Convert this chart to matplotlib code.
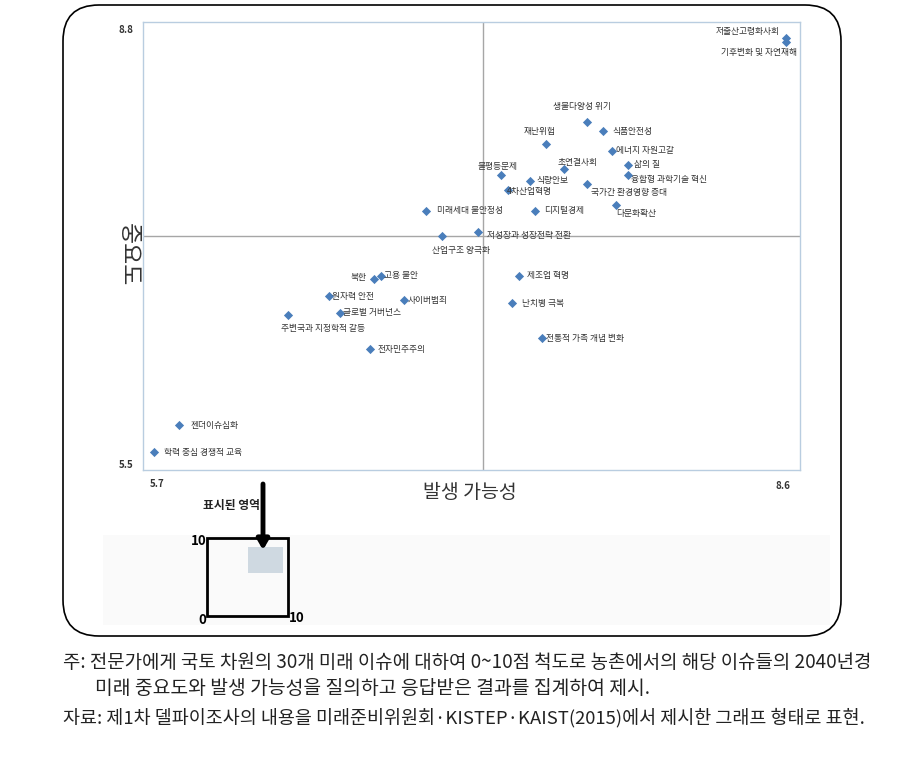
import matplotlib
matplotlib.use("Agg")
import matplotlib.pyplot as plt
from matplotlib.patches import FancyBboxPatch, Rectangle

plt.rcParams['font.family'] = ['Noto Sans CJK KR', 'DejaVu Sans']

# 30개 미래 이슈: 발생 가능성(x), 중요도(y)
이슈 = ["저출산고령화사회", "기후변화 및 자연재해", "생물다양성 위기", "식품안전성", "재난위험",
      "에너지 자원고갈", "삶의 질", "초연결사회", "융합형 과학기술 혁신", "불평등문제",
      "식량안보", "국가간 환경영향 증대", "4차산업혁명", "다문화확산", "미래세대 불안정성",
      "디지털경제", "저성장과 성장전략 전환", "산업구조 양극화", "제조업 혁명", "난치병 극복",
      "전통적 가족 개념 변화", "북한", "고용 불안", "원자력 안전", "사이버범죄",
      "글로벌 거버넌스", "주변국과 지정학적 갈등", "전자민주주의", "젠더이슈심화", "학력 중심 경쟁적 교육"]
발생가능성 = [8.54, 8.54, 7.66, 7.73, 7.48, 7.77, 7.84, 7.56, 7.84, 7.28,
         7.41, 7.66, 7.31, 7.79, 6.95, 7.43, 7.18, 7.02, 7.36, 7.33,
         7.46, 6.72, 6.75, 6.52, 6.85, 6.57, 6.34, 6.70, 5.86, 5.75]
중요도 = [8.68, 8.65, 8.06, 8.00, 7.90, 7.85, 7.75, 7.72, 7.67, 7.67,
       7.63, 7.61, 7.56, 7.45, 7.41, 7.41, 7.25, 7.22, 6.93, 6.73,
       6.47, 6.91, 6.93, 6.78, 6.75, 6.66, 6.64, 6.39, 5.83, 5.63]
x_범위 = (5.7, 8.6)
y_범위 = (5.5, 8.8)
기준선 = (7.2, 7.22)

# 라벨 위치 (픽셀 오프셋 dx, dy(위쪽 +), 정렬)
라벨위치 = [(-7, 7, 'right'), (11, -10, 'right'), (-5, 16, 'center'), (10, -1, 'left'), (-7, 13, 'center'),
        (4, 0, 'left'), (6, 0, 'left'), (13, 6, 'center'), (3, -4, 'left'), (-3, 9, 'center'),
        (6, 0, 'left'), (4, -9, 'left'), (-1, -1, 'left'), (0, -8, 'left'), (11, 0, 'left'),
        (9, 0, 'left'), (9, -3, 'left'), (19, -14, 'center'), (8, 0, 'left'), (10, 0, 'left'),
        (4, 0, 'left'), (-8, 1, 'right'), (3, 0, 'left'), (3, 0, 'left'), (4, 0, 'left'),
        (3, 0, 'left'), (-7, -13, 'left'), (8, 0, 'left'), (11, 0, 'left'), (10, 0, 'left')]

W, H = 920, 762
fig = plt.figure(figsize=(W / 100, H / 100), dpi=100)

# 픽셀 좌표용 배경 축
bg = fig.add_axes([0, 0, 1, 1], zorder=0)
bg.set_xlim(0, W)
bg.set_ylim(H, 0)
bg.axis('off')
bg.patch.set_alpha(0)

bg.add_patch(FancyBboxPatch((63, 5), 778, 631, boxstyle="round,pad=0,rounding_size=36",
                            fill=False, ec='black', lw=1.2))
bg.add_patch(Rectangle((103, 535), 727, 90, color='#fafafa', lw=0))

# 본 그래프
ax = fig.add_axes([143 / W, 1 - 470 / H, 657 / W, 448 / H], zorder=1)
ax.set_xlim(*x_범위)
ax.set_ylim(*y_범위)
ax.set_xticks([])
ax.set_yticks([])
for s in ax.spines.values():
    s.set_color('#b9cde0')
    s.set_linewidth(1.0)
ax.axvline(기준선[0], color='#a6a6a6', lw=1)
ax.axhline(기준선[1], color='#a6a6a6', lw=1)
ax.scatter(발생가능성, 중요도, marker='D', s=22, color='#4a7ebb', zorder=3, linewidths=0)

for name, x, y, (dx, dy, ha) in zip(이슈, 발생가능성, 중요도, 라벨위치):
    ax.annotate(name, (x, y), xytext=(dx * 0.72, dy * 0.72), textcoords='offset points',
                ha=ha, va='center', fontsize=6.3, color='#333333', zorder=4)

# 축 끝 값과 축 제목
tick_kw = dict(fontsize=7, fontweight='bold', color='#333333', ha='center', va='center')
bg.text(126, 30, "8.8", **tick_kw)
bg.text(126, 465, "5.5", **tick_kw)
bg.text(157, 484, "5.7", **tick_kw)
bg.text(783, 486, "8.6", **tick_kw)
bg.text(128, 255, "중요도", rotation=270, fontsize=16.5, color='#333333', ha='center', va='center')
bg.text(470, 492, "발생 가능성", fontsize=14, color='#333333', ha='center', va='center')

# 표시된 영역 안내
bg.add_patch(Rectangle((207, 538), 81, 78, fill=False, ec='black', lw=2))
bg.add_patch(Rectangle((248, 547), 35, 26, color='#cfd9e1', lw=0))
bg.annotate("", xy=(263, 550), xytext=(263, 484),
            arrowprops=dict(arrowstyle='-|>,head_width=0.35,head_length=0.6', lw=3.5, color='black',
                            shrinkA=0, shrinkB=0))
bg.text(232, 505, "표시된 영역", fontsize=8.5, fontweight='bold', color='#222222', ha='center', va='center')
bg.text(199, 541, "10", fontsize=9.5, fontweight='bold', ha='center', va='center')
bg.text(202, 620, "0", fontsize=9.5, fontweight='bold', ha='center', va='center')
bg.text(297, 618, "10", fontsize=9.5, fontweight='bold', ha='center', va='center')

# 주석
note_kw = dict(color='#222222', va='center', ha='left')
bg.text(63, 662, "주: 전문가에게 국토 차원의 30개 미래 이슈에 대하여 0~10점 척도로 농촌에서의 해당 이슈들의 2040년경",
        fontsize=13.6, **note_kw)
bg.text(95, 689, "미래 중요도와 발생 가능성을 질의하고 응답받은 결과를 집계하여 제시.", fontsize=13.9, **note_kw)
bg.text(63, 718, "자료: 제1차 델파이조사의 내용을 미래준비위원회·KISTEP·KAIST(2015)에서 제시한 그래프 형태로 표현.",
        fontsize=13.3, **note_kw)

fig.savefig("out.png", dpi=100)
